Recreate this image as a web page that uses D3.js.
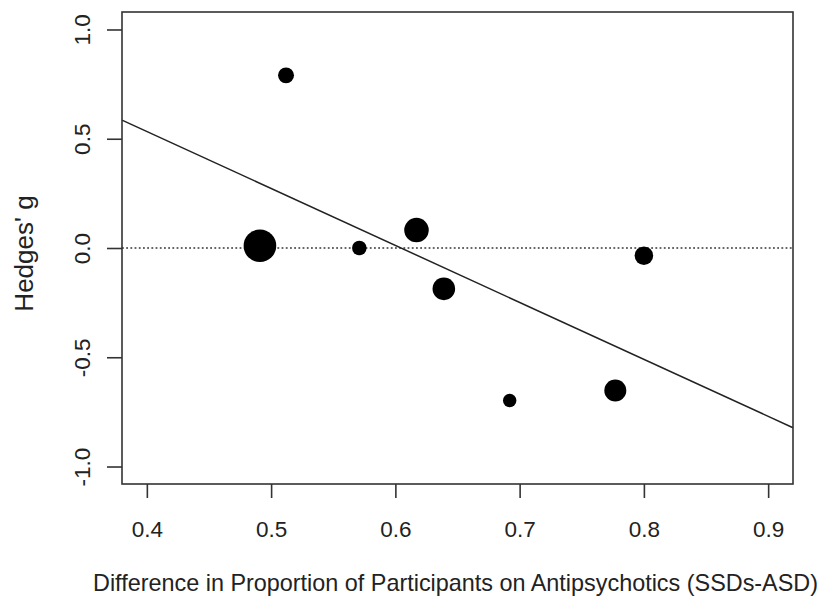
<!DOCTYPE html>
<html>
<head>
<meta charset="utf-8">
<script src="https://cdn.jsdelivr.net/npm/d3@7"></script>
<style>
  body { margin: 0; background: #fff; }
  text { font-family: "Liberation Sans", Arial, sans-serif; fill: #222; }
</style>
</head>
<body>
<div id="plot"></div>
<script>
// proportion difference (SSDs-ASD) per study
var propDiff = [0.512, 0.491, 0.571, 0.617, 0.639, 0.800, 0.692, 0.777];
// Hedges' g per study
var hedgesG = [0.79, 0.01, 0.00, 0.082, -0.187, -0.035, -0.698, -0.652];
// study weights (drive bubble size)
var weights = [64, 266, 53, 151, 128, 86, 45, 121];
// meta-regression line: g = intercept + slope * x
var intercept = 1.576, slope = -2.607;

var xTicks = [0.4, 0.5, 0.6, 0.7, 0.8, 0.9];
var yTicks = [-1.0, -0.5, 0.0, 0.5, 1.0];

var W = 823, H = 600;
var margin = {top: 12, right: 30, bottom: 116, left: 122};
var width = W - margin.left - margin.right,
    height = H - margin.top - margin.bottom;

var fmt = function(d) { return d3.format(".1f")(d).replace("\u2212", "-"); };

var svg = d3.select("#plot").append("svg")
  .attr("width", W).attr("height", H)
  .append("g")
  .attr("transform", "translate(" + margin.left + "," + margin.top + ")");

// R-style 4% extension of the limits
var x = d3.scaleLinear().domain([0.38, 0.92]).range([0, width]);
var y = d3.scaleLinear().domain([-1.08, 1.08]).range([height, 0]);
var r = d3.scaleSqrt().domain([0, d3.max(weights)]).range([0, 16.3]);

// dotted reference line at 0
svg.append("line")
  .attr("x1", 0).attr("x2", width)
  .attr("y1", y(0)).attr("y2", y(0))
  .attr("stroke", "#666").attr("stroke-width", 1.8)
  .attr("stroke-dasharray", "1.8,2.4");

// regression line
svg.append("line")
  .attr("x1", x(0.38)).attr("x2", x(0.92))
  .attr("y1", y(intercept + slope * 0.38))
  .attr("y2", y(intercept + slope * 0.92))
  .attr("stroke", "#222").attr("stroke-width", 1.5);

// bubbles
var pts = propDiff.map(function(d, i) { return [d, hedgesG[i], weights[i]]; });
svg.append("g").selectAll("circle")
  .data(pts)
  .enter()
  .append("circle")
    .attr("cx", function(d) { return x(d[0]); })
    .attr("cy", function(d) { return y(d[1]); })
    .attr("r", function(d) { return r(d[2]); })
    .style("fill", "#000");

// box
svg.append("rect")
  .attr("x", 0).attr("y", 0)
  .attr("width", width).attr("height", height)
  .attr("fill", "none").attr("stroke", "#333").attr("stroke-width", 1.6);

// X axis
var xAxis = svg.append("g")
  .attr("transform", "translate(0," + height + ")")
  .call(d3.axisBottom(x).tickValues(xTicks).tickFormat(fmt).tickSize(14));
xAxis.select(".domain").remove();
xAxis.selectAll("line").attr("stroke", "#333").attr("stroke-width", 1.6);
xAxis.selectAll("text")
  .attr("y", 53).attr("dy", null)
  .style("font-size", "22.5px").attr("fill", "#222")
  .style("font-family", "'Liberation Sans', Arial, sans-serif");

// Y axis (rotated labels, R style)
var yAxis = svg.append("g")
  .call(d3.axisLeft(y).tickValues(yTicks).tickFormat(fmt).tickSize(15));
yAxis.select(".domain").remove();
yAxis.selectAll("line").attr("stroke", "#333").attr("stroke-width", 1.6);
yAxis.selectAll("text")
  .attr("x", null).attr("dy", null)
  .attr("transform", "translate(-32,0) rotate(-90)")
  .attr("text-anchor", "middle")
  .style("font-size", "22.5px").attr("fill", "#222")
  .style("font-family", "'Liberation Sans', Arial, sans-serif");

// axis titles
svg.append("text")
  .attr("x", (93 + 818) / 2 - margin.left)
  .attr("y", 591 - margin.top)
  .attr("text-anchor", "middle")
  .style("font-size", "23.4px")
  .text("Difference in Proportion of Participants on Antipsychotics (SSDs-ASD)");

svg.append("text")
  .attr("transform", "translate(" + (33 - margin.left) + "," + (253.5 - margin.top) + ") rotate(-90)")
  .attr("text-anchor", "middle")
  .style("font-size", "26px")
  .text("Hedges' g");
</script>
</body>
</html>
